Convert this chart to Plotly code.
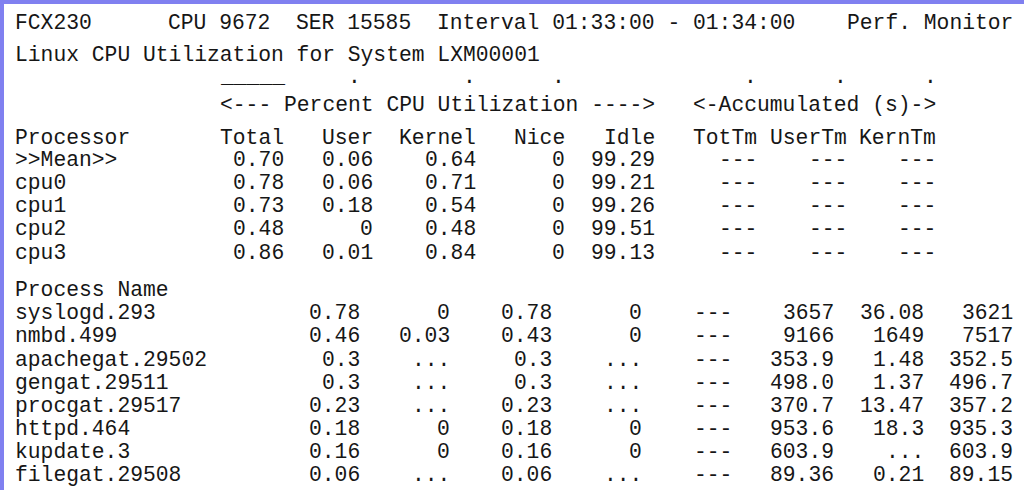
import plotly.graph_objects as go

# ---------------- data (as printed in the report) ----------------
title_texts = ["FCX230", "CPU 9672", "SER 15585", "Interval 01:33:00 - 01:34:00", "Perf. Monitor"]
subtitle_text = "Linux CPU Utilization for System LXM00001"
group_texts = ["<--- Percent CPU Utilization ---->", "<-Accumulated (s)->"]
underline_text = "_____"

cpu_header = ["Total", "User", "Kernel", "Nice", "Idle", "TotTm", "UserTm", "KernTm"]
cpu_names = [">>Mean>>", "cpu0", "cpu1", "cpu2", "cpu3"]
cpu_total = ["0.70", "0.78", "0.73", "0.48", "0.86"]
cpu_user = ["0.06", "0.06", "0.18", "0", "0.01"]
cpu_kernel = ["0.64", "0.71", "0.54", "0.48", "0.84"]
cpu_nice = ["0", "0", "0", "0", "0"]
cpu_idle = ["99.29", "99.21", "99.26", "99.51", "99.13"]
cpu_tottm = ["---", "---", "---", "---", "---"]
cpu_usertm = ["---", "---", "---", "---", "---"]
cpu_kerntm = ["---", "---", "---", "---", "---"]

proc_label = "Process Name"
proc_names = ["syslogd.293", "nmbd.499", "apachegat.29502", "gengat.29511",
              "procgat.29517", "httpd.464", "kupdate.3", "filegat.29508"]
proc_total = ["0.78", "0.46", "0.3", "0.3", "0.23", "0.18", "0.16", "0.06"]
proc_user = ["0", "0.03", "...", "...", "...", "0", "0", "..."]
proc_kernel = ["0.78", "0.43", "0.3", "0.3", "0.23", "0.18", "0.16", "0.06"]
proc_nice = ["0", "0", "...", "...", "...", "0", "0", "..."]
proc_idle = ["---", "---", "---", "---", "---", "---", "---", "---"]
proc_tottm = ["3657", "9166", "353.9", "498.0", "370.7", "953.6", "603.9", "89.36"]
proc_usertm = ["36.08", "1649", "1.48", "1.37", "13.47", "18.3", "...", "0.21"]
proc_kerntm = ["3621", "7517", "352.5", "496.7", "357.2", "935.3", "603.9", "89.15"]

# ---------------- layout (character grid of the fixed-width report) ----------------
W, H = 1024, 490
CHAR_W = 12.8          # advance of a 16pt monospace glyph
X_ORIGIN = 2.0         # pixel position of column 0
FONT = dict(family="Liberation Mono, Courier New, monospace", size=21.33, color="#161616")

title_cols = [1, 13, 23, 34, 66]
name_col = 1
group_cols = [17, 54]
underline_col = 17
dot_cols = [27, 36, 43, 58, 65, 72]
cpu_col_end = [22, 29, 37, 44, 51, 59, 66, 73]
proc_col_end = [28, 35, 43, 50, 57, 65, 72, 79]

y_title, y_sub, y_dots, y_group, y_head = 23, 55, 77, 105, 138
cpu_row_y = [160, 183, 206, 229, 253]
y_proc_label = 290
proc_row_y = [313, 336, 360, 383, 406, 429, 452, 475]

annotations = []


def put(text, col, y, anchor="left"):
    annotations.append(dict(
        x=col, y=y, xref="x", yref="y", text=text, showarrow=False,
        xanchor=anchor, yanchor="middle", font=FONT,
        borderpad=0, borderwidth=0))


for t, c in zip(title_texts, title_cols):
    put(t, c, y_title)
put(subtitle_text, name_col, y_sub)
put(underline_text, underline_col, y_dots)
for c in dot_cols:
    put(".", c, y_dots)
for t, c in zip(group_texts, group_cols):
    put(t, c, y_group)

put("Processor", name_col, y_head)
for t, c in zip(cpu_header, cpu_col_end):
    put(t, c, y_head, "right")

cpu_cols = [cpu_total, cpu_user, cpu_kernel, cpu_nice, cpu_idle, cpu_tottm, cpu_usertm, cpu_kerntm]
for i, name in enumerate(cpu_names):
    put(name, name_col, cpu_row_y[i])
    for col_vals, c in zip(cpu_cols, cpu_col_end):
        put(col_vals[i], c, cpu_row_y[i], "right")

put(proc_label, name_col, y_proc_label)
proc_cols = [proc_total, proc_user, proc_kernel, proc_nice, proc_idle, proc_tottm, proc_usertm, proc_kerntm]
for i, name in enumerate(proc_names):
    put(name, name_col, proc_row_y[i])
    for col_vals, c in zip(proc_cols, proc_col_end):
        put(col_vals[i], c, proc_row_y[i], "right")

border = "#8080f0"
shapes = [
    dict(type="rect", xref="paper", yref="paper", x0=0, x1=4 / W, y0=0, y1=1,
         fillcolor=border, line=dict(width=0), layer="above"),
    dict(type="rect", xref="paper", yref="paper", x0=0, x1=1, y0=1 - 4 / H, y1=1,
         fillcolor=border, line=dict(width=0), layer="above"),
]

fig = go.Figure()
fig.update_layout(
    width=W, height=H,
    margin=dict(l=0, r=0, t=0, b=0),
    paper_bgcolor="white", plot_bgcolor="white",
    showlegend=False,
    xaxis=dict(range=[-X_ORIGIN / CHAR_W, (W - X_ORIGIN) / CHAR_W], visible=False, fixedrange=True),
    yaxis=dict(range=[H, 0], visible=False, fixedrange=True),
    annotations=annotations,
    shapes=shapes,
)
fig.write_html("out.html", config={"displayModeBar": False},
               post_script="document.body.style.margin='0px';")
